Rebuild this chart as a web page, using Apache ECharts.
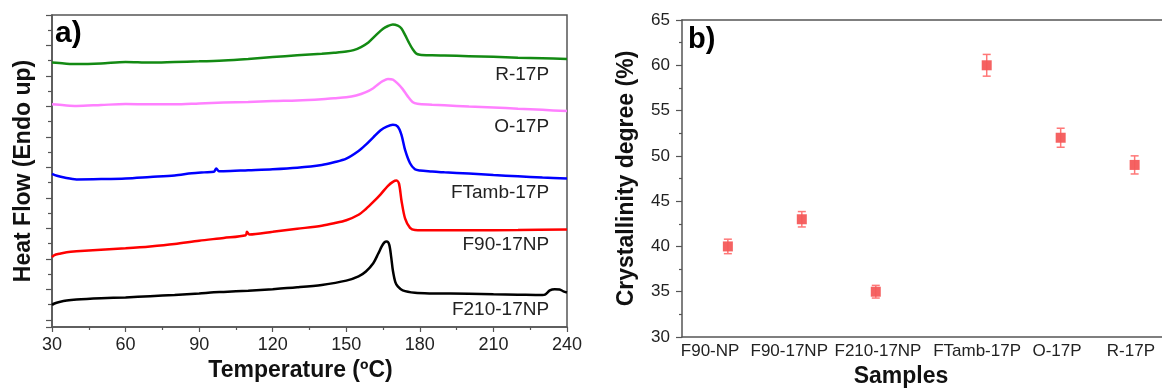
<!DOCTYPE html>
<html>
<head>
<meta charset="utf-8">
<script src="https://cdn.jsdelivr.net/npm/echarts@6/dist/echarts.min.js"></script>
<style>
html,body{margin:0;padding:0;background:#fff;}
#c{width:1162px;height:389px;}
</style>
</head>
<body>
<div id="c"></div>
<script>
// ---------- Panel a) DSC curves: [temperature (ºC), heat flow (a.u.)] ----------
const curveR17P = [[30,8.67],[35,8.64],[40,8.62],[50,8.64],[60,8.69],[65,8.68],[70,8.67],[80,8.69],[90,8.71],[100,8.74],[110,8.79],[120,8.85],[130,8.91],[140,8.96],[145,8.99],[150,9.03],[153,9.08],[156,9.18],[159,9.33],[162,9.56],[165,9.78],[167,9.87],[169,9.92],[171,9.88],[172.5,9.79],[174,9.57],[175.5,9.33],[177,9.12],[178.5,8.97],[180,8.93],[185,8.91],[190,8.90],[200,8.88],[210,8.86],[220,8.83],[230,8.81],[240,8.79]];
const curveO17P = [[30,7.30],[35,7.27],[40,7.25],[50,7.28],[60,7.31],[70,7.30],[80,7.30],[90,7.33],[100,7.36],[110,7.38],[120,7.41],[130,7.43],[140,7.47],[145,7.50],[150,7.53],[154,7.59],[158,7.70],[161,7.83],[163,7.96],[165,8.07],[167,8.13],[169,8.11],[171,7.98],[173,7.80],[175,7.57],[177,7.38],[179,7.32],[185,7.29],[190,7.27],[200,7.23],[210,7.20],[220,7.16],[230,7.12],[240,7.08]];
const curveFTamb17P = [[30,5.02],[32,4.96],[35,4.90],[40,4.84],[50,4.85],[60,4.87],[70,4.92],[80,4.97],[87,5.04],[92,5.07],[96,5.09],[97,5.20],[98,5.11],[100,5.11],[110,5.14],[120,5.17],[130,5.22],[140,5.31],[145,5.40],[150,5.52],[155,5.77],[158,5.98],[161,6.22],[164,6.45],[166.5,6.57],[169,6.63],[171,6.57],[172.5,6.30],[174,5.80],[176,5.37],[178,5.17],[180,5.13],[185,5.10],[190,5.07],[200,5.03],[210,4.98],[220,4.94],[230,4.90],[240,4.87]];
const curveF9017NP = [[30,2.29],[31,2.36],[33,2.40],[36,2.45],[40,2.48],[50,2.53],[60,2.58],[70,2.64],[80,2.72],[90,2.83],[100,2.92],[109,3.01],[109.5,3.12],[110.5,3.03],[120,3.12],[130,3.22],[140,3.32],[145,3.40],[150,3.50],[155,3.68],[158,3.87],[161,4.10],[164,4.35],[167,4.63],[169,4.76],[170.5,4.80],[171.5,4.70],[172.5,4.15],[174,3.55],[176,3.25],[178,3.18],[185,3.17],[200,3.17],[220,3.18],[240,3.20]];
const curveF21017NP = [[30,0.72],[31,0.77],[33,0.82],[36,0.87],[40,0.90],[50,0.94],[60,0.97],[70,1.01],[80,1.05],[90,1.10],[96,1.14],[100,1.15],[110,1.19],[120,1.24],[130,1.30],[140,1.38],[150,1.52],[155,1.66],[158,1.82],[161,2.09],[163,2.40],[164.5,2.65],[165.5,2.77],[166.5,2.80],[167.5,2.70],[168.3,2.30],[169,1.85],[170,1.47],[171,1.33],[173,1.20],[178,1.12],[185,1.10],[200,1.09],[210,1.07],[220,1.06],[230,1.05],[231,1.06],[233,1.20],[235,1.24],[237,1.23],[238.5,1.17],[240,1.13]];
const curveNames = ['R-17P','O-17P','FTamb-17P','F90-17NP','F210-17NP'];

// ---------- Panel b) crystallinity ----------
const sampleNames = ['F90-NP','F90-17NP','F210-17NP','FTamb-17P','O-17P','R-17P'];
const samplePositions = [1, 2, 3, 4.5, 5.5, 6.5];
const sampleLabelPositions = [0.76, 1.83, 3.03, 4.37, 5.45, 6.45];
const crystallinity = [40.0, 43.0, 35.0, 60.0, 52.0, 49.0];
const crystallinityErr = [0.8, 0.85, 0.7, 1.2, 1.05, 1.0];

const FONT = 'Liberation Sans, Arial, sans-serif';
const AX = '#555';

const chart = echarts.init(document.getElementById('c'), null, {renderer:'canvas'});

const curveColors = ['#138a13','#ff80ff','#0000ff','#ff0000','#000000'];
const curveData = [curveR17P, curveO17P, curveFTamb17P, curveF9017NP, curveF21017NP];
const labelAnchors = [[232.7,8.26],[232.7,6.57],[232.7,4.41],[232.7,2.69],[232.7,0.56]];

const series = curveData.map((d, i) => ({
  type: 'line', name: curveNames[i], xAxisIndex: 0, yAxisIndex: 0,
  data: d, showSymbol: false, symbol: 'none', smooth: 0.3,
  lineStyle: {color: curveColors[i], width: 2.5},
  z: 3,
  markPoint: {
    symbol: 'circle', symbolSize: 0, silent: true,
    label: {show: true, position: 'left', distance: 0, color: '#222',
            fontFamily: FONT, fontSize: 19, formatter: curveNames[i]},
    data: [{coord: labelAnchors[i]}]
  }
}));

const pts = samplePositions.map((x, i) => [x, crystallinity[i], crystallinityErr[i]]);

series.push({
  type: 'custom', xAxisIndex: 2, yAxisIndex: 2, data: pts, z: 2,
  renderItem: function (params, api) {
    const x = api.value(0), y = api.value(1), e = api.value(2);
    const t = api.coord([x, y + e]);
    const b = api.coord([x, y - e]);
    const hw = 4;
    const st = {stroke: '#f77', lineWidth: 1.5};
    return {type: 'group', children: [
      {type: 'line', shape: {x1: t[0], y1: t[1], x2: b[0], y2: b[1]}, style: st},
      {type: 'line', shape: {x1: t[0]-hw, y1: t[1], x2: t[0]+hw, y2: t[1]}, style: st},
      {type: 'line', shape: {x1: b[0]-hw, y1: b[1], x2: b[0]+hw, y2: b[1]}, style: st}
    ]};
  }
});
series.push({
  type: 'scatter', xAxisIndex: 2, yAxisIndex: 2, z: 4,
  data: pts.map(p => [p[0], p[1]]),
  symbol: 'rect', symbolSize: 10,
  itemStyle: {color: '#f45a5a', opacity: 0.95}
});

const option = {
  animation: false,
  backgroundColor: '#fff',
  textStyle: {fontFamily: FONT},
  grid: [
    {left: 52, top: 15, width: 515, height: 312, show: true, borderColor: AX, borderWidth: 1.5, backgroundColor: 'transparent', outerBoundsMode: 'none', containLabel: false},
    {left: 52, top: 15, width: 515, height: 312, outerBoundsMode: 'none', containLabel: false},
    {left: 682, top: 20, width: 480, height: 317, outerBoundsMode: 'none', containLabel: false}
  ],
  xAxis: [
    {type: 'value', gridIndex: 0, min: 30, max: 240, interval: 30,
     axisLine: {show: true, lineStyle: {color: AX, width: 1.5}},
     axisTick: {show: true, inside: false, length: 5, lineStyle: {color: AX, width: 1.2}},
     minorTick: {show: true, splitNumber: 2, length: 3, lineStyle: {color: AX, width: 1.2}},
     axisLabel: {fontSize: 18, color: '#222', margin: 9, fontFamily: FONT, showMaxLabel: true},
     splitLine: {show: false},
     name: 'Temperature (ºC)', nameLocation: 'middle', nameGap: 30,
     nameTextStyle: {fontSize: 23, fontWeight: 'bold', color: '#111', fontFamily: FONT, padding: [0, 18, 0, 0]}},
    {type: 'value', gridIndex: 1, min: 30, max: 240, show: false},
    {type: 'value', gridIndex: 2, min: 0.38, max: 6.87, position: 'bottom',
     axisLine: {show: true, lineStyle: {color: AX, width: 1.5}},
     axisTick: {show: false},
     axisLabel: {fontSize: 17, color: '#222', margin: 6, fontFamily: FONT,
       customValues: sampleLabelPositions,
       formatter: function (v) {
         for (let i = 0; i < sampleLabelPositions.length; i++) {
           if (Math.abs(v - sampleLabelPositions[i]) < 1e-6) return sampleNames[i];
         }
         return '';
       }},
     splitLine: {show: false},
     name: 'Samples', nameLocation: 'middle', nameGap: 28,
     nameTextStyle: {fontSize: 23, fontWeight: 'bold', color: '#111', fontFamily: FONT, padding: [0, 42, 0, 0]}},
    {type: 'value', gridIndex: 2, min: 0.38, max: 6.87, position: 'top',
     axisLine: {show: true, lineStyle: {color: AX, width: 1.5}},
     axisTick: {show: false}, axisLabel: {show: false}, splitLine: {show: false}}
  ],
  yAxis: [
    {type: 'value', gridIndex: 0, min: 0, max: 10.23,
     axisLine: {show: true, lineStyle: {color: AX, width: 1.5}},
     axisTick: {show: false}, axisLabel: {show: false}, splitLine: {show: false},
     name: 'Heat Flow (Endo up)', nameLocation: 'middle', nameGap: 17, nameRotate: 90,
     nameTextStyle: {fontSize: 23, fontWeight: 'bold', color: '#111', fontFamily: FONT}},
    {type: 'value', gridIndex: 1, min: 0, max: 10.23, interval: 1, inverse: true,
     axisLine: {show: false},
     axisTick: {show: true, inside: false, length: 6, lineStyle: {color: AX, width: 1.2}},
     minorTick: {show: true, splitNumber: 2, length: 4, lineStyle: {color: AX, width: 1.2}},
     axisLabel: {show: false}, splitLine: {show: false}},
    {type: 'value', gridIndex: 2, min: 30, max: 65, interval: 5,
     axisLine: {show: true, lineStyle: {color: AX, width: 1.5}},
     axisTick: {show: true, inside: false, length: 6, lineStyle: {color: AX, width: 1.2}},
     minorTick: {show: true, splitNumber: 2, length: 3, lineStyle: {color: AX, width: 1.2}},
     axisLabel: {fontSize: 17, color: '#222', margin: 12, fontFamily: FONT},
     splitLine: {show: false},
     name: 'Crystallinity degree (%)', nameLocation: 'middle', nameGap: 44, nameRotate: 90,
     nameTextStyle: {fontSize: 23, fontWeight: 'bold', color: '#111', fontFamily: FONT}}
  ],
  graphic: [
    {type: 'text', left: 55, top: 19, style: {text: 'a)', font: 'bold 30px ' + FONT, fill: '#000'}},
    {type: 'text', left: 688, top: 25, style: {text: 'b)', font: 'bold 29px ' + FONT, fill: '#000'}}
  ],
  series: series
};
chart.setOption(option);
</script>
</body>
</html>
